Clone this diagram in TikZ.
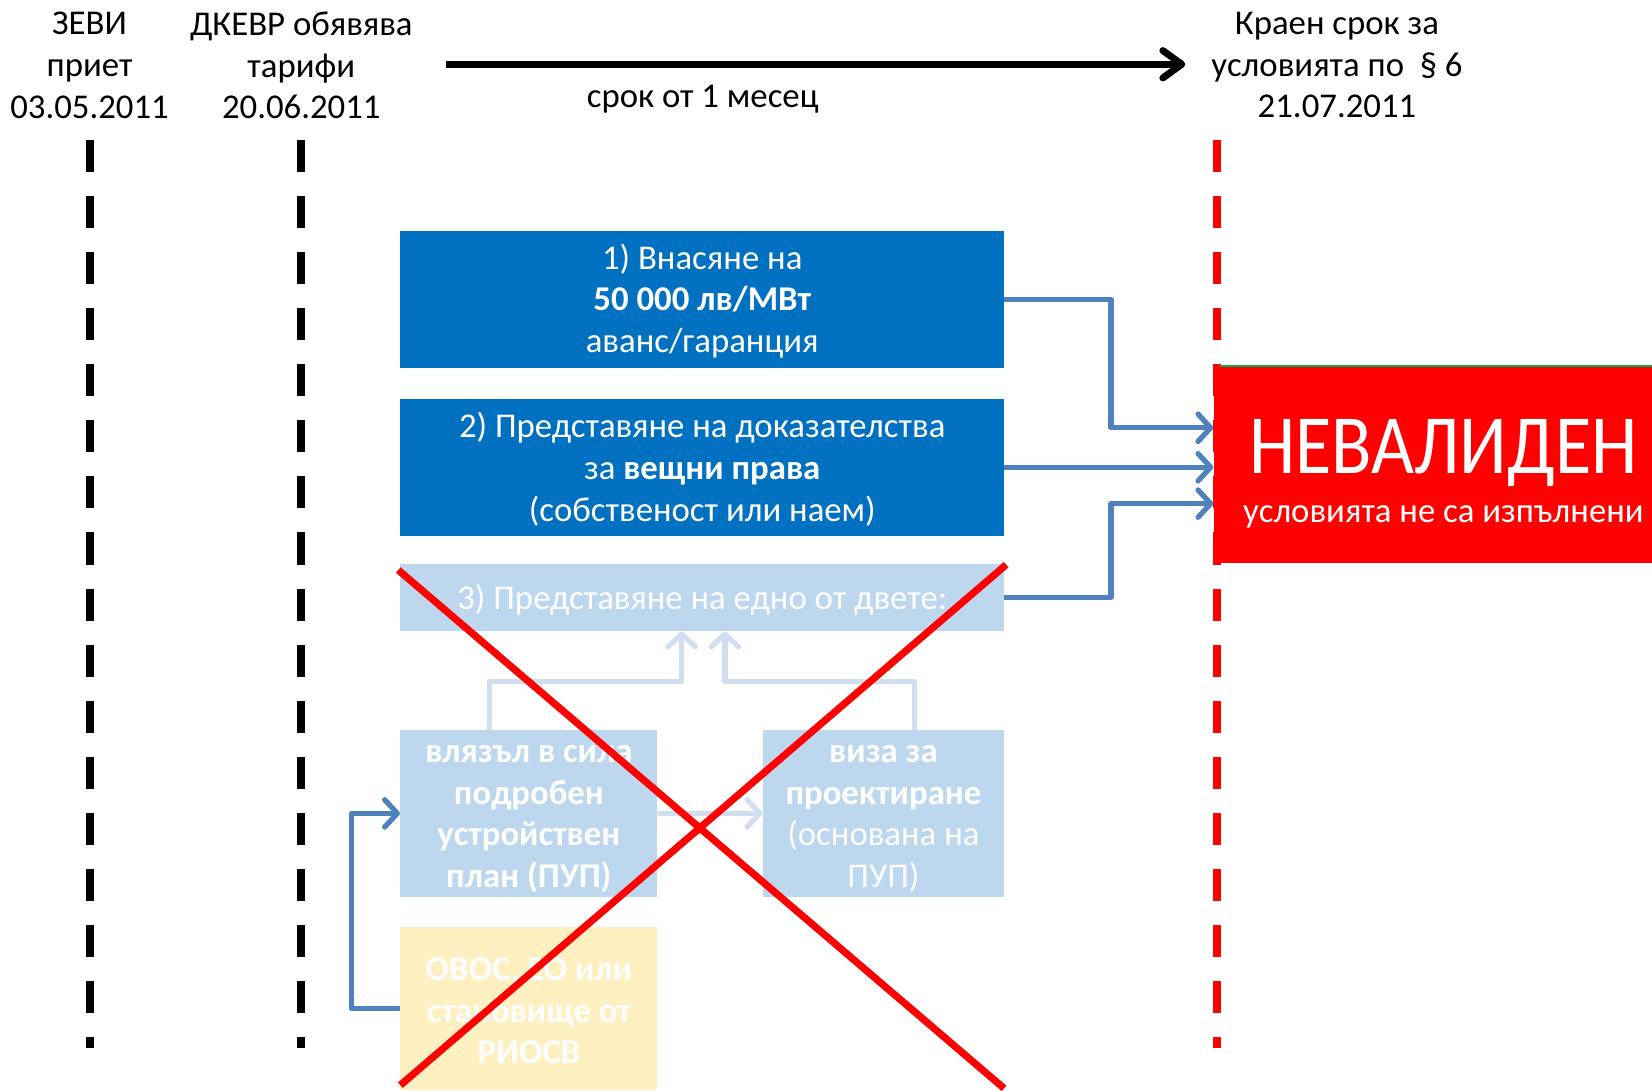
\documentclass[tikz,border=0pt]{standalone}
\usepackage{fontspec}
\setmainfont{Carlito}
\usetikzlibrary{arrows.meta}
\definecolor{stepblue}{HTML}{0070C0}
\definecolor{fadeblue}{HTML}{BDD7EE}
\definecolor{fadeline}{HTML}{D0DEEF}
\definecolor{linkblue}{HTML}{4F81BD}
\definecolor{fadeyellow}{HTML}{FFF0C1}
\definecolor{nvred}{HTML}{FF0000}
\definecolor{nvgreen}{HTML}{00B050}
\begin{document}
\begin{tikzpicture}[x=0.5pt,y=-0.5pt,
  every node/.style={inner sep=0pt,align=center,font=\fontsize{16.5}{19.75}\selectfont},
  stepbox/.style={fill=stepblue,text=white,minimum width=286.5pt,minimum height=65pt},
  fadebox/.style={fill=fadeblue,text=white,minimum width=122pt,minimum height=79pt,inner ysep=-3pt},
  marker/.style={line width=3.8pt,dash pattern=on 15.2pt off 11.4pt},
  link/.style={draw=linkblue,line width=2.5pt,line join=round,-{Straight Barb[length=6pt,width=13pt,round]}},
  fadelink/.style={link,draw=fadeline},
  cross/.style={draw=nvred,line width=3.4pt}]
\useasboundingbox (0,0) rectangle (1568,1035);

% timeline
\node (zevi) at (85,62) {ЗЕВИ\\приет\\03.05.2011};
\node (dkevr) at (286,62) {ДКЕВР обявява\\тарифи\\20.06.2011};
\node (kraen) at (1269,62) {Краен срок за\\условията по \ § 6\\21.07.2011};
\node (term) at (667,94) {срок от 1 месец};

\draw[marker] (85,133) -- (85,995);
\draw[marker] (286,133) -- (286,995);
\draw[marker,nvred] (1155,133) -- (1155,995);

\coordinate (from) at (423,61);
\coordinate (to) at (1125,61);
\draw[line width=3.3pt,-{Straight Barb[length=9pt,width=13pt,round]}] (from) -- (to);

% conditions
\node[stepbox] (1) at (666.5,284) {\strut 1) Внасяне на\\\textbf{50 000 лв/МВт}\\аванс/гаранция};
\node[stepbox] (2) at (666.5,443.5) {\strut 2) Представяне на доказателства\\за \textbf{вещни права}\\(собственост или наем)};
\node[stepbox,fill=fadeblue,minimum height=32pt] (3) at (666.5,567) {\rule{0pt}{17.8pt}3) Представяне на едно от двете:\strut};
\node[fadebox,font=\fontsize{16.5}{19.75}\selectfont\bfseries] (4) at (502,772) {\rule{0pt}{16.8pt}влязъл в сила\\подробен\\устройствен\\план (ПУП)\strut};
\node[fadebox,minimum width=114.5pt] (5) at (838.5,772) {\rule{0pt}{16.8pt}\textbf{виза за}\\\textbf{проектиране}\\(основана на\\ПУП)\strut};
\node[fadebox,fill=fadeyellow,minimum height=77.5pt,font=\fontsize{16.5}{19.75}\selectfont\bfseries] (6) at (502,957.5) {\rule{0pt}{18.8pt}ОВОС, ЕО или\\становище от\\РИОСВ\strut};

% result
\node[fill=nvred,minimum width=208pt,minimum height=93pt] (nv) at (1360,441) {};
\draw[nvgreen,line width=0.8pt] ([xshift=3pt]nv.north west) -- (nv.north east);
\node[text=white,font=\fontsize{40}{44}\selectfont] (nvtitle) at (1370,430) {\scalebox{0.88}[1]{НЕВАЛИДЕН}};
\node[text=white] (nvnote) at (1370,491) {условията не са изпълнени};

\draw[link] (1.east) -- ++(50.5pt,0) |- ([yshift=17.5pt]nv.west);
\draw[link] (2.east) -- (2.east -| nv.west);
\draw[link] (3.east) -- ++(50.5pt,0) |- ([yshift=-18.5pt]nv.west);
\draw[fadelink] ([xshift=42.5pt]4.north west) -- ++(0,23pt) -| ([xshift=-9.75pt]3.south);
\draw[fadelink] ([xshift=14.75pt]5.north) -- ++(0,23pt) -| ([xshift=10.75pt]3.south);
\draw[fadelink] (4.east) -- (5.west);
\draw[link] (6.west) -- ++(-23pt,0) |- (4.west);

% crossed out
\draw[cross] (378,541) -- (953,1033);
\draw[cross] (955,536) -- (380,1030);
\end{tikzpicture}
\end{document}
